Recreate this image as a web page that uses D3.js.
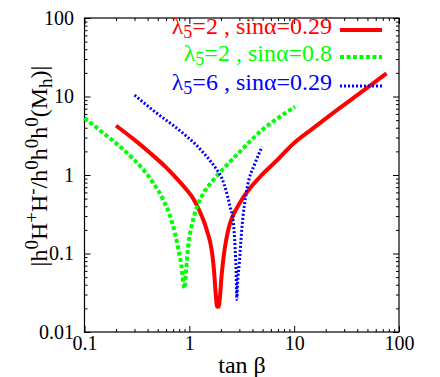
<!DOCTYPE html>
<html>
<head>
<meta charset="utf-8">
<script src="https://cdn.jsdelivr.net/npm/d3@7"></script>
<style>
body{margin:0;background:#fff;}
svg, svg text, svg tspan{font-family:"Liberation Serif" !important;}
</style>
</head>
<body>
<div id="chart"></div>
<script>
// lambda5=2 , sin(alpha)=0.29
var redX=[0.2,0.3,0.42,0.6,0.76,0.95,1.09,1.18,1.3,1.41,1.5,1.58,1.66,1.72,1.78,1.84,1.9,1.96,2.02,2.11,2.27,2.44,2.63,3.0,3.27,4.0,4.73,7.06,9.8,15,23.6,40,76];
var redY=[4.25,2.8,1.92,1.25,0.9,0.64,0.5,0.41,0.31,0.235,0.18,0.14,0.095,0.06,0.032,0.021,0.021,0.028,0.048,0.085,0.16,0.24,0.31,0.43,0.52,0.74,0.95,1.6,2.5,3.9,6.2,10.4,19.7];
// lambda5=2 , sin(alpha)=0.8
var greenX=[0.1,0.15,0.218,0.29,0.364,0.45,0.565,0.65,0.73,0.79,0.84,0.9,0.93,0.98,1.05,1.18,1.35,1.69,2.05,3.0,4.9,7.0,10.2];
var greenY=[5.3,3.45,2.3,1.62,1.17,0.8,0.48,0.31,0.18,0.11,0.07,0.036,0.06,0.13,0.22,0.39,0.57,0.86,1.15,1.95,3.7,5.3,7.4];
// lambda5=6 , sin(alpha)=0.29
var blueX=[0.3,0.4,0.525,0.7,0.945,1.15,1.36,1.58,1.8,2.05,2.25,2.44,2.63,2.73,2.79,2.84,2.88,3.0,3.16,3.53,4.24,4.94];
var blueY=[10.4,7.6,5.7,4.3,3.1,2.45,1.92,1.52,1.2,0.9,0.62,0.4,0.245,0.121,0.062,0.026,0.04,0.076,0.2,0.64,1.42,2.28];

var xMajor=[0.1,1,10,100];
var yMajor=[0.01,0.1,1,10,100];
var xTickLabels=["0.1","1","10","100"];
var yTickLabels=["0.01","0.1","1","10","100"];

var legendNames=[["2","0.29"],["2","0.8"],["6","0.29"]];
var colors=["#ff0000","#00ff00","#0000ff"];
var dashes=[null,"4,2.5","2,2"];
var widths=[4,4,3];

var FONT="Liberation Serif";

var width=440, height=377;
var margin={top:18,right:41,bottom:45,left:84.5};

var svg=d3.select("#chart").append("svg")
    .attr("width",width)
    .attr("height",height)
    .style("font-family",FONT);

var x=d3.scaleLog().domain([0.1,100]).range([margin.left,width-margin.right]);
var y=d3.scaleLog().domain([0.01,100]).range([height-margin.bottom,margin.top]);

function minors(lo,hi){
  var out=[];
  for(var d=lo; d<hi*0.999; d*=10)
    for(var k=2;k<10;k++) out.push(d*k);
  return out;
}
var xMinor=minors(0.1,100), yMinor=minors(0.01,100);

function fmt(labels,vals){
  return function(d){ return labels[vals.indexOf(d)]; };
}

// bottom + left with labels
svg.append("g").attr("class","axis")
    .attr("transform","translate(0,"+(height-margin.bottom)+")")
    .call(d3.axisBottom(x).tickValues(xMajor).tickSize(-6).tickPadding(4).tickFormat(fmt(xTickLabels,xMajor)));
svg.append("g").attr("class","axis")
    .attr("transform","translate(0,"+(height-margin.bottom)+")")
    .call(d3.axisBottom(x).tickValues(xMinor).tickSize(-3).tickFormat(""));
svg.append("g").attr("class","axis")
    .attr("transform","translate("+margin.left+",0)")
    .call(d3.axisLeft(y).tickValues(yMajor).tickSize(-6).tickPadding(10.5).tickFormat(fmt(yTickLabels,yMajor)));
svg.append("g").attr("class","axis")
    .attr("transform","translate("+margin.left+",0)")
    .call(d3.axisLeft(y).tickValues(yMinor).tickSize(-3).tickFormat(""));

// mirrored ticks top + right
svg.append("g").attr("class","axis")
    .attr("transform","translate(0,"+margin.top+")")
    .call(d3.axisTop(x).tickValues(xMajor).tickSize(-6).tickFormat(""));
svg.append("g").attr("class","axis")
    .attr("transform","translate(0,"+margin.top+")")
    .call(d3.axisTop(x).tickValues(xMinor).tickSize(-3).tickFormat(""));
svg.append("g").attr("class","axis")
    .attr("transform","translate("+(width-margin.right)+",0)")
    .call(d3.axisRight(y).tickValues(yMajor).tickSize(-6).tickFormat(""));
svg.append("g").attr("class","axis")
    .attr("transform","translate("+(width-margin.right)+",0)")
    .call(d3.axisRight(y).tickValues(yMinor).tickSize(-3).tickFormat(""));

svg.selectAll(".axis").attr("font-family",null).style("font-family",FONT);
svg.selectAll(".axis .domain").remove();
svg.selectAll(".axis line").attr("stroke","#000").attr("stroke-width",1);
svg.selectAll(".axis text")
    .attr("font-size",20)
    .attr("fill","#000")
    .style("font-family",FONT);

// frame
svg.append("rect")
    .attr("x",margin.left).attr("y",margin.top)
    .attr("width",width-margin.right-margin.left)
    .attr("height",height-margin.bottom-margin.top)
    .attr("fill","none").attr("stroke","#000").attr("stroke-width",1.2);

// curves
var series=[d3.zip(redX,redY),d3.zip(greenX,greenY),d3.zip(blueX,blueY)];
var line=d3.line()
    .x(function(d){return x(d[0]);})
    .y(function(d){return y(d[1]);})
    .curve(d3.curveMonotoneX);

series.forEach(function(s,i){
  svg.append("path")
    .datum(s)
    .attr("d",line)
    .attr("fill","none")
    .attr("stroke",colors[i])
    .attr("stroke-width",widths[i])
    .attr("stroke-dasharray",dashes[i]);
});

// legend
var legY=[30,57,86];
legendNames.forEach(function(n,i){
  var t=svg.append("text")
    .attr("x",332).attr("y",legY[i]+4)
    .attr("text-anchor","end")
    .attr("font-size",24)
    .attr("fill",colors[i])
    .style("font-family",FONT);
  t.append("tspan").text("\u03bb");
  t.append("tspan").attr("font-size",18).attr("dy",4).text("5");
  t.append("tspan").attr("dy",-4).text("="+n[0]+" , sin\u03b1="+n[1]);
  svg.append("line")
    .attr("x1",340).attr("x2",382)
    .attr("y1",legY[i]).attr("y2",legY[i])
    .attr("stroke",colors[i])
    .attr("stroke-width",widths[i])
    .attr("stroke-dasharray",dashes[i]);
});

// x title
svg.append("text")
    .attr("x",242).attr("y",373)
    .attr("text-anchor","middle")
    .attr("font-size",24)
    .style("font-family",FONT)
    .text("tan \u03b2");

// y title
var yt=svg.append("text")
    .attr("transform","translate(47,166) rotate(-90)")
    .attr("text-anchor","middle")
    .attr("font-size",24)
    .style("font-family",FONT);
var parts=[["|h",0],["0",1],["H",-1],["+",1],["H",-1],["-",1],["/h",-1],["0",1],["h",-1],["0",1],["h",-1],["0",1],["(M",-1],["h",2],[")|",-2]];
parts.forEach(function(p){
  var sp=yt.append("tspan").text(p[0]);
  if(p[1]==1) sp.attr("font-size",19).attr("dy",-9);
  else if(p[1]==-1) sp.attr("dy",9);
  else if(p[1]==2) sp.attr("font-size",19).attr("dy",5);
  else if(p[1]==-2) sp.attr("dy",-5);
});
</script>
</body>
</html>
